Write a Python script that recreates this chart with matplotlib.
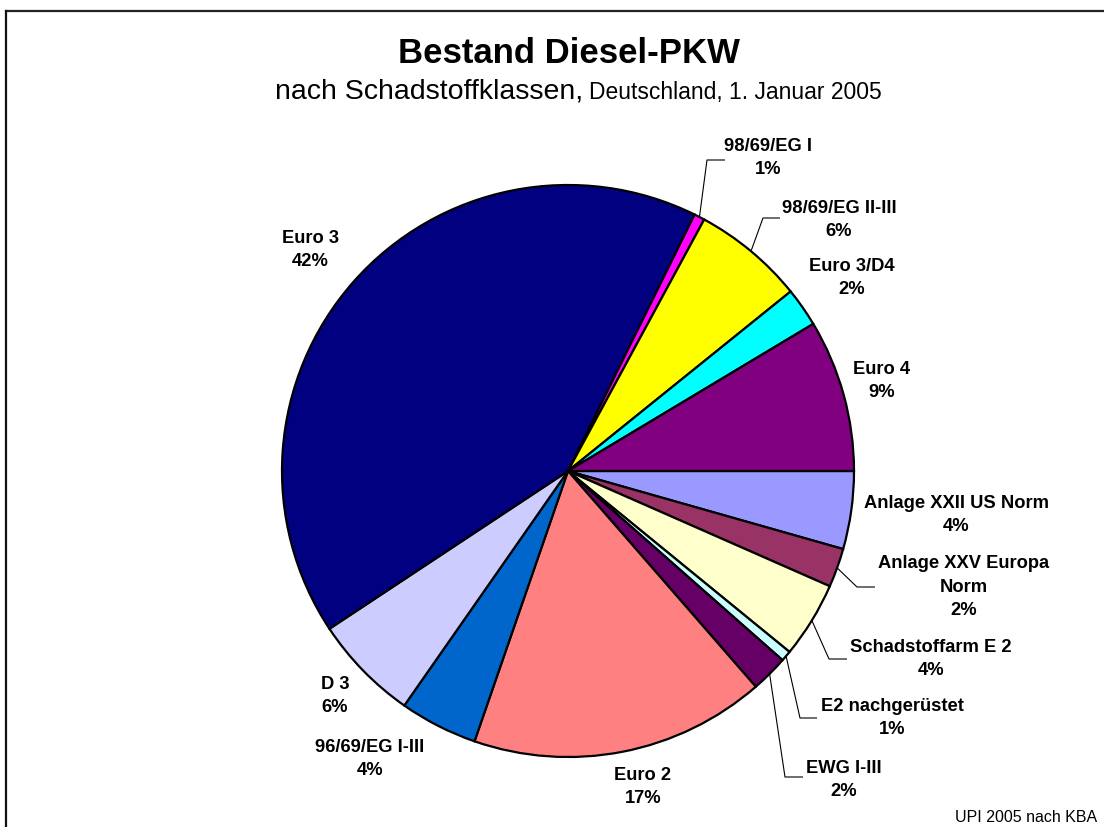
import matplotlib
matplotlib.use("Agg")
import matplotlib.pyplot as plt
import numpy as np

plt.rcParams['font.family'] = ['Liberation Sans', 'DejaVu Sans']

# Diesel passenger cars by emission class, clockwise from 3 o'clock
categories = [
    "Anlage XXII US Norm", "Anlage XXV Europa\nNorm", "Schadstoffarm E 2",
    "E2 nachgerüstet", "EWG I-III", "Euro 2", "96/69/EG I-III", "D 3",
    "Euro 3", "98/69/EG I", "98/69/EG II-III", "Euro 3/D4", "Euro 4",
]
shares = [4.4, 2.2, 4.3, 0.6, 2.1, 16.7, 4.4, 6.0, 41.6, 0.6, 6.3, 2.2, 8.6]
colors = [
    "#9999FF", "#993366", "#FFFFCC", "#CCFFFF", "#660066", "#FF8080",
    "#0066CC", "#CCCCFF", "#000080", "#FF00FF", "#FFFF00", "#00FFFF", "#800080",
]

W, H = 1104, 827
fig = plt.figure(figsize=(W / 100, H / 100), dpi=100)
ax = fig.add_axes([0, 0, 1, 1])
ax.set_xlim(0, W)
ax.set_ylim(0, H)
ax.axis("off")

cx, cy, R = 568, H - 471, 286

wedges, _ = ax.pie(
    shares, colors=colors, startangle=0, counterclock=False,
    center=(cx, cy), radius=R,
    wedgeprops=dict(edgecolor="black", linewidth=1.6),
)
ax.set_xlim(0, W)
ax.set_ylim(0, H)
ax.set_aspect("equal")

# label layout in pixel positions (top-down): text centre, optional leader elbow and end
label_pos = [
    (956, 515), (964, 587), (931, 659), (892, 718), (844, 780), (643, 787),
    (370, 759), (335, 696), (310, 250), (768, 158), (839, 220), (852, 278),
    (882, 381),
]
leaders = {
    1: ((857, 587), (875, 587)),
    2: ((829, 659), (847, 659)),
    3: ((800, 718), (817, 718)),
    4: ((785, 777), (803, 777)),
    9: ((707, 160), (725, 160)),
    10: ((763, 218), (780, 218)),
}

total = sum(shares)
for i, (w, name, val) in enumerate(zip(wedges, categories, shares)):
    pct = 100 * val / total
    tx, ty = label_pos[i]
    ax.text(tx, H - ty, f"{name}\n{pct:.0f}%", ha="center", va="center",
            multialignment="center", fontsize=13.2, fontweight="bold",
            linespacing=1.5, color="black")
    if i in leaders:
        mid = np.deg2rad((w.theta1 + w.theta2) / 2)
        sx, sy = cx + R * np.cos(mid), cy + R * np.sin(mid)
        (ex, ey), (hx, hy) = leaders[i]
        ax.plot([sx, ex, hx], [sy, H - ey, H - hy], color="black", lw=0.8,
                solid_capstyle="butt")

fig.text(569 / W, 1 - 63 / H, "Bestand Diesel-PKW", ha="center", va="baseline",
         fontsize=25, fontweight="bold")
fig.text(583 / W, 1 - 99 / H, "nach Schadstoffklassen,", ha="right", va="baseline",
         fontsize=20.5)
fig.text(589 / W, 1 - 99 / H, "Deutschland, 1. Januar 2005", ha="left",
         va="baseline", fontsize=16.5)
fig.text(1097 / W, 1 - 822 / H, "UPI 2005 nach KBA", ha="right", va="baseline",
         fontsize=11.5)

# frame lines along top and left
ax.plot([5.5, W], [H - 10.5, H - 10.5], color="#222222", lw=1.6, clip_on=False)
ax.plot([5.5, 5.5], [H - 10.5, 0], color="#111111", lw=1.6, clip_on=False)

fig.savefig("out.png", dpi=100, facecolor="white")
